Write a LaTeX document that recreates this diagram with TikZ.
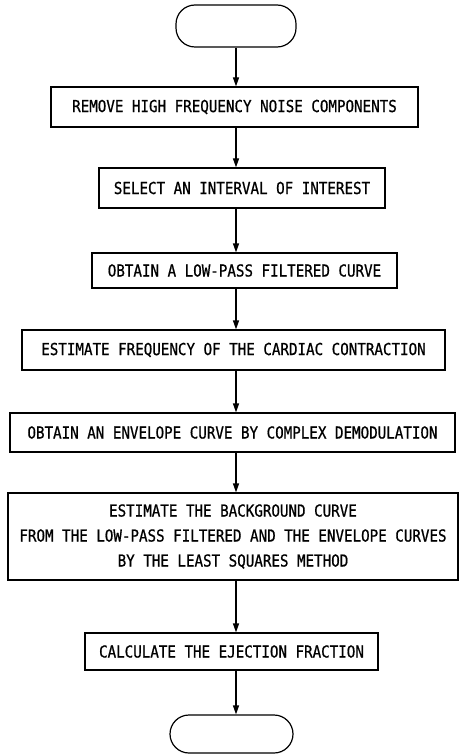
\documentclass[tikz,border=0pt]{standalone}
\usepackage{fontspec}
\newfontfamily\flowfont[FakeStretch=0.86, FakeBold=0.8]{DejaVu Sans Mono}
\usetikzlibrary{arrows.meta}
\tikzset{
	stepbox/.style={draw, line width=1.2pt, inner sep=0pt, font=\flowfont\fontsize{16.5}{19}\selectfont},
	termbox/.style={draw, line width=1.2pt, rounded corners=19pt, inner sep=0pt},
	arr/.style={line width=1.2pt, -{Triangle[length=9pt,width=6pt]}}
}

\begin{document}
\begin{tikzpicture}[x=1pt, y=1pt]
		%%%%% START %%%%%
		\useasboundingbox (0, 0) rectangle (459, -754);
		
		\node[termbox, minimum width=120, minimum height=42] (start) at (236, -26) {};
		
		\node[stepbox, minimum width=367, minimum height=40] (noise) at (234.5, -107) {REMOVE HIGH FREQUENCY NOISE COMPONENTS};
		\node[stepbox, minimum width=286, minimum height=40] (interval) at (242, -188) {SELECT AN INTERVAL OF INTEREST};
		\node[stepbox, minimum width=305, minimum height=35] (lowpass) at (244.5, -270.5) {OBTAIN A LOW-PASS FILTERED CURVE};
		\node[stepbox, minimum width=423, minimum height=40] (freq) at (233.5, -350) {ESTIMATE FREQUENCY OF THE CARDIAC CONTRACTION};
		\node[stepbox, minimum width=445, minimum height=39] (envelope) at (232.5, -432.5) {OBTAIN AN ENVELOPE CURVE BY COMPLEX DEMODULATION};
		\node[stepbox, minimum width=450, minimum height=87, align=center] (background) at (233, -536.5)
			{ESTIMATE THE BACKGROUND CURVE\\[6pt] FROM THE LOW-PASS FILTERED AND THE ENVELOPE CURVES\\[6pt] BY THE LEAST SQUARES METHOD};
		\node[stepbox, minimum width=293, minimum height=37] (ejection) at (231.5, -651.5) {CALCULATE THE EJECTION FRACTION};
		
		\node[termbox, minimum width=123, minimum height=38] (stop) at (231.5, -734) {};
		
		% arrows
		\draw[arr] (start.south) -- (start.south |- noise.north);
		\draw[arr] (start.south |- noise.south) -- (start.south |- interval.north);
		\draw[arr] (start.south |- interval.south) -- (start.south |- lowpass.north);
		\draw[arr] (start.south |- lowpass.south) -- (start.south |- freq.north);
		\draw[arr] (start.south |- freq.south) -- (start.south |- envelope.north);
		\draw[arr] (start.south |- envelope.south) -- (start.south |- background.north);
		\draw[arr] (start.south |- background.south) -- (start.south |- ejection.north);
		\draw[arr] (start.south |- ejection.south) -- (start.south |- stop.north);
		
		%%%%% END %%%%%
\end{tikzpicture}
\end{document}
